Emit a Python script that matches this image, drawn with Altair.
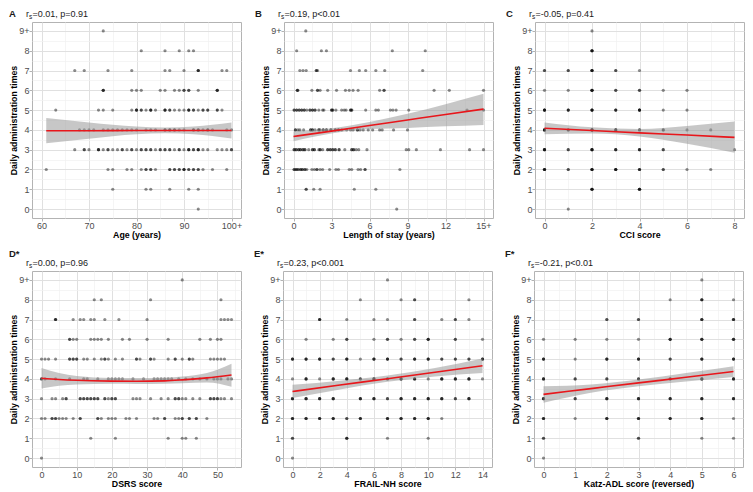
import json
import altair as alt
import pandas as pd

FONT = "Liberation Sans"

# ---------------- shared y axis ----------------
Y_VALUES = [0, 1, 2, 3, 4, 5, 6, 7, 8, 9]
Y_LABELS = ["0", "1", "2", "3", "4", "5", "6", "7", "8", "9+"]
Y_MINOR = [0.5, 1.5, 2.5, 3.5, 4.5, 5.5, 6.5, 7.5, 8.5]
Y_DOMAIN = [-0.45, 9.45]
Y_TITLE = "Daily administration times"

# ---------------- panel A : Age ----------------
A_points = {
    9: [73],
    8: [81, 86, 89, 91, 92],
    7: [67, 69, 74, 79, 86, 87, 90, 93, 93, 93, 98, 99],
    6: [73, 73, 73, 79, 80, 81, 85, 86, 88, 89, 90, 90, 91, 91, 93, 97, 97, 97],
    5: [63, 72, 73, 75, 79, 80, 80, 80, 81, 81, 82, 83, 83, 83, 84, 86, 86, 86, 87, 87,
        88, 89, 90, 91, 91, 91, 92, 92, 93, 94, 94, 95, 95, 97, 97, 98],
    4: [68, 69, 70, 71, 73, 74, 75, 76, 77, 78, 79, 80, 82, 83, 84, 86, 86, 87, 87, 88,
        88, 89, 90, 92, 92, 93, 93, 94, 95, 95, 96, 99, 100],
    3: [67, 69, 69, 70, 72, 72, 72, 73, 74, 74, 75, 76, 77, 77, 78, 79, 79, 80, 81, 81,
        82, 82, 83, 83, 84, 85, 85, 86, 86, 87, 87, 88, 89, 89, 90, 91, 91, 91, 92, 92,
        93, 93, 93, 94, 95, 97, 98, 99, 100, 100],
    2: [61, 74, 75, 78, 79, 81, 82, 82, 83, 83, 84, 87, 87, 88, 88, 89, 89, 90, 90, 90,
        91, 91, 92, 92, 93, 93, 94, 96, 99],
    1: [75, 82, 83, 87, 91, 93],
    0: [93],
}
A_fit_x = [61, 70, 80, 86, 92, 100]
A_fit_y = [3.96, 3.96, 3.97, 3.97, 3.97, 3.97]
A_fit_lo = [3.32, 3.55, 3.78, 3.83, 3.78, 3.57]
A_fit_hi = [4.60, 4.38, 4.17, 4.12, 4.17, 4.37]
A_ticks = [60, 70, 80, 90, 100]
A_labels = ["60", "70", "80", "90", "100+"]
A_minor = [65, 75, 85, 95]

# ---------------- panel B : Length of stay ----------------
B_points = {
    9: [0.97],
    8: [0.25, 2.2, 2.6, 7.8, 10.4],
    7: [0.5, 0.75, 1.0, 1.8, 1.8, 1.9, 4.5, 5.2, 5.7, 6.5, 7.2, 10.2],
    6: [0.3, 0.3, 0.35, 1.45, 1.9, 1.9, 2.1, 2.7, 3.4, 4.1, 4.4, 4.7, 5.1, 6.8, 7.15,
        7.15, 11.1, 12.3, 15],
    5: [0.05, 0.05, 0.25, 0.25, 0.45, 0.45, 0.65, 0.65, 0.85, 0.85, 1.05, 1.3, 1.3, 1.5,
        1.5, 1.7, 1.7, 2.0, 2.3, 2.4, 3.0, 3.0, 3.1, 3.1, 3.35, 3.8, 4.0, 4.15, 4.5, 4.5,
        4.6, 4.6, 5.7, 6.5, 6.7, 7.65, 7.85, 8.1, 9.1, 13.7, 15],
    4: [0.15, 0.15, 0.35, 0.5, 0.8, 1.35, 1.35, 1.5, 1.5, 1.7, 2.0, 2.0, 2.1, 2.35, 2.35,
        2.6, 2.6, 2.95, 2.95, 3.3, 3.3, 3.55, 3.55, 3.8, 4.2, 4.5, 4.7, 5.05, 5.05, 5.25,
        5.5, 5.9, 6.25, 6.8, 7.0, 7.9, 9.0],
    3: [0.05, 0.05, 0.2, 0.2, 0.4, 0.4, 0.55, 0.55, 0.75, 0.75, 0.9, 0.9, 1.2, 1.5, 1.5,
        1.65, 1.65, 2.0, 2.1, 2.1, 2.3, 2.7, 2.7, 2.9, 2.9, 3.1, 3.1, 3.3, 3.3, 3.6, 3.6,
        4.05, 4.6, 4.6, 4.75, 4.75, 4.95, 5.15, 5.8, 8.9, 9.1, 9.7, 11.6, 13.9, 15],
    2: [0.05, 0.05, 0.2, 0.2, 0.35, 0.35, 0.55, 0.55, 0.7, 0.7, 0.9, 0.9, 1.05, 1.45,
        1.65, 1.85, 1.85, 2.1, 2.3, 2.85, 3.35, 3.55, 4.4, 4.6, 5.1, 5.3, 5.65, 5.65, 8.4],
    1: [1.0, 1.0, 1.6, 2.1, 4.8, 6.5],
    0: [8.15],
}
B_fit_x = [0, 3, 6, 9, 12, 15]
B_fit_y = [3.67, 3.94, 4.22, 4.5, 4.78, 5.05]
B_fit_lo = [3.43, 3.82, 4.04, 4.1, 4.18, 4.25]
B_fit_hi = [3.92, 4.08, 4.40, 4.82, 5.3, 5.83]
B_ticks = [0, 3, 6, 9, 12, 15]
B_labels = ["0", "3", "6", "9", "12", "15+"]
B_minor = [1.5, 4.5, 7.5, 10.5, 13.5]

# ---------------- panel C : CCI ----------------
C_points = {
    9: [2],
    8: [2, 2, 2, 2],
    7: [0, 0, 1, 1, 2, 2, 2, 2, 3, 3, 4],
    6: [0, 1, 2, 2, 2, 2, 3, 3, 4, 4, 5, 6],
    5: [0, 0, 0, 0, 1, 1, 1, 2, 2, 2, 2, 3, 3, 3, 4, 4, 4, 4, 5, 6],
    4: [0, 0, 0, 0, 1, 1, 2, 2, 2, 2, 3, 3, 3, 4, 4, 5, 5, 6, 7],
    3: [0, 0, 0, 0, 1, 1, 2, 2, 2, 2, 3, 3, 3, 4, 4, 4, 5, 5, 8],
    2: [0, 0, 0, 0, 1, 1, 2, 2, 2, 2, 3, 3, 3, 3, 4, 4, 4, 5, 5, 6, 7],
    1: [2, 2, 2, 2, 4, 4, 4, 4],
    0: [1],
}
C_fit_x = [0, 2, 4, 6, 8]
C_fit_y = [4.08, 3.97, 3.85, 3.74, 3.62]
C_fit_lo = [3.78, 3.82, 3.67, 3.30, 2.85]
C_fit_hi = [4.38, 4.13, 4.05, 4.20, 4.42]
C_ticks = [0, 2, 4, 6, 8]
C_labels = ["0", "2", "4", "6", "8"]
C_minor = [1, 3, 5, 7]

# ---------------- panel D : DSRS ----------------
D_points = {
    9: [40],
    8: [15, 17, 31, 51],
    7: [4, 4, 4, 9, 11, 12, 14, 15, 18, 22, 30, 51, 52, 53, 54],
    6: [8, 8, 9, 10, 14, 15, 16, 17, 19, 23, 25, 30, 36, 45, 48, 50, 51],
    5: [0, 1, 2, 4, 8, 8, 9, 9, 10, 10, 12, 13, 15, 17, 18, 18, 19, 21, 23, 27, 27, 28,
        31, 31, 32, 36, 38, 38, 40, 42, 42, 43, 48, 49, 50, 51, 52],
    4: [0, 0, 1, 4, 8, 12, 13, 16, 19, 20, 21, 22, 23, 26, 29, 32, 33, 34, 35, 36, 37,
        39, 41, 43, 45, 47, 49, 50, 51, 53, 54],
    3: [0, 3, 4, 6, 7, 7, 11, 11, 12, 12, 13, 13, 14, 14, 15, 15, 16, 16, 18, 18, 19, 20,
        20, 21, 21, 26, 27, 28, 31, 34, 36, 38, 38, 39, 39, 40, 41, 43, 45, 48, 48, 49,
        49, 50, 50, 51, 52, 54],
    2: [0, 1, 3, 3, 4, 4, 5, 6, 7, 9, 11, 11, 16, 16, 17, 19, 20, 21, 24, 25, 27, 32, 33,
        35, 35, 38, 39, 40, 40, 42, 42, 44, 44, 47],
    1: [14, 21, 36, 40, 41, 44],
    0: [0],
}
D_fit_x = [0, 5, 10, 20, 27, 35, 40, 47, 54]
D_fit_y = [4.03, 3.97, 3.93, 3.89, 3.88, 3.90, 3.95, 4.05, 4.20]
D_fit_lo = [3.52, 3.65, 3.72, 3.75, 3.74, 3.75, 3.78, 3.82, 3.60]
D_fit_hi = [4.55, 4.30, 4.15, 4.05, 4.04, 4.06, 4.12, 4.30, 4.77]
D_ticks = [0, 10, 20, 30, 40, 50]
D_labels = ["0", "10", "20", "30", "40", "50"]
D_minor = [5, 15, 25, 35, 45, 55]

# ---------------- panel E : FRAIL-NH ----------------
E_points = {
    9: [7],
    8: [5, 8, 9, 9, 13],
    7: [2, 2, 2, 4, 6, 7, 9, 9, 11, 12, 12, 13],
    6: [1, 3, 4, 4, 6, 7, 7, 8, 9, 9, 10, 10, 10, 12, 12, 14],
    5: [0, 0, 0, 1, 1, 1, 2, 2, 2, 3, 3, 4, 4, 4, 5, 6, 6, 6, 7, 7, 7, 8, 8, 9, 9, 9,
        10, 10, 10, 11, 11, 12, 12, 13, 13, 14, 14, 14],
    4: [0, 1, 1, 1, 2, 3, 3, 3, 4, 4, 4, 5, 5, 6, 6, 6, 7, 7, 8, 8, 8, 9, 9, 9, 10, 11,
        11, 11, 12, 12, 12, 13, 13, 13, 14],
    3: [0, 0, 0, 1, 1, 1, 2, 2, 2, 3, 3, 3, 5, 5, 5, 6, 6, 6, 7, 7, 8, 8, 8, 9, 9, 9,
        10, 10, 10, 11, 11, 11, 12, 12, 13, 13, 13],
    2: [0, 0, 0, 1, 1, 1, 2, 2, 2, 3, 3, 3, 4, 4, 5, 5, 5, 7, 7, 7, 8, 8, 8, 9, 9, 9,
        10, 10, 10, 11],
    1: [0, 0, 4, 4, 4, 7, 10],
    0: [0],
}
E_fit_x = [0, 3.5, 7, 10.5, 14]
E_fit_y = [3.36, 3.69, 4.01, 4.34, 4.66]
E_fit_lo = [3.03, 3.47, 3.85, 4.12, 4.30]
E_fit_hi = [3.70, 3.91, 4.17, 4.55, 5.03]
E_ticks = [0, 2, 4, 6, 8, 10, 12, 14]
E_labels = ["0", "2", "4", "6", "8", "10", "12", "14"]
E_minor = [1, 3, 5, 7, 9, 11, 13]

# ---------------- panel F : Katz-ADL ----------------
F_points = {
    9: [5],
    8: [4, 5, 5, 5, 6],
    7: [2, 2, 3, 3, 5, 5, 5, 6, 6, 6],
    6: [0, 1, 2, 3, 4, 4, 4, 5, 5, 5, 6, 6, 6],
    5: [0, 0, 0, 1, 2, 2, 2, 3, 3, 3, 4, 4, 5, 5, 5, 6, 6, 6],
    4: [0, 0, 0, 1, 1, 2, 2, 3, 3, 4, 4, 5, 5, 5, 6, 6, 6],
    3: [0, 0, 0, 1, 1, 2, 2, 2, 3, 3, 3, 4, 4, 4, 5, 5, 5, 6, 6, 6],
    2: [0, 0, 0, 1, 2, 2, 2, 3, 3, 3, 4, 4, 4, 5, 5, 5, 6],
    1: [0, 0, 3, 3, 5, 6],
    0: [0],
}
F_fit_x = [0, 1.5, 3, 4.5, 6]
F_fit_y = [3.22, 3.51, 3.80, 4.08, 4.37]
F_fit_lo = [2.80, 3.30, 3.63, 3.87, 4.10]
F_fit_hi = [3.63, 3.72, 3.97, 4.30, 4.64]
F_ticks = [0, 1, 2, 3, 4, 5, 6]
F_labels = ["0", "1", "2", "3", "4", "5", "6"]
F_minor = [0.5, 1.5, 2.5, 3.5, 4.5, 5.5]

PANEL_W = 209
PANEL_H = 196


def label_expr(vals, labs):
    expr = "''"
    for v, l in zip(vals, labs):
        expr = f"datum.value == {v} ? '{l}' : ({expr})"
    return expr


def make_axis(title, majors, labels, minors):
    test = f"indexof({json.dumps(majors)}, datum.value) < 0"
    return alt.Axis(
        title=title,
        values=majors + minors,
        labelExpr=label_expr(majors, labels),
        gridColor={"condition": {"test": test, "value": "#F0F0F0"}, "value": "#E0E0E0"},
        gridWidth={"condition": {"test": test, "value": 0.7}, "value": 1.0},
        tickOpacity={"condition": {"test": test, "value": 0}, "value": 1},
    )


def text_layer(txt, x, y, size, weight="normal"):
    return alt.Chart(pd.DataFrame({"t": [txt]})).mark_text(
        align="left", baseline="alphabetic", fontSize=size, fontWeight=weight,
        font=FONT, color="#1A1A1A"
    ).encode(x=alt.value(x), y=alt.value(y), text="t:N")


def panel(letter, rs, pts, xdom, xmaj, xlab, xmin, xtitle, fx, fy, flo, fhi, lx, ly):
    rows = [(x, y) for y, xs in pts.items() for x in xs]
    df = pd.DataFrame(rows, columns=["x", "y"])
    fit = pd.DataFrame({"x": fx, "fit": fy, "lo": flo, "hi": fhi})
    xs = alt.Scale(domain=xdom, nice=False, zero=False)
    ys = alt.Scale(domain=Y_DOMAIN, nice=False, zero=False)
    xaxis = make_axis(xtitle, xmaj, xlab, xmin)
    yaxis = make_axis(Y_TITLE, Y_VALUES, Y_LABELS, Y_MINOR)

    points = alt.Chart(df).mark_circle(size=10, color="black", opacity=0.45).encode(
        x=alt.X("x:Q", scale=xs, axis=xaxis),
        y=alt.Y("y:Q", scale=ys, axis=yaxis),
    )
    band = alt.Chart(fit).mark_area(color="#999999", opacity=0.55, interpolate="monotone").encode(
        x=alt.X("x:Q", scale=xs, axis=xaxis),
        y=alt.Y("lo:Q", scale=ys, axis=yaxis),
        y2="hi:Q",
    )
    line = alt.Chart(fit).mark_line(color="#E8161B", strokeWidth=1.6, interpolate="monotone").encode(
        x=alt.X("x:Q", scale=xs, axis=xaxis),
        y=alt.Y("fit:Q", scale=ys, axis=yaxis),
    )
    lab = text_layer(letter, lx, ly, 9.5, "bold")
    r1 = text_layer("r", -6, -5, 9)
    r2 = text_layer("s", -3, -3, 6.5)
    r3 = text_layer(rs, 0.5, -5, 9)
    return alt.layer(points, band, line, lab, r1, r2, r3).properties(width=PANEL_W, height=PANEL_H)


pA = panel("A", "=0.01, p=0.91", A_points, [58, 102], A_ticks, A_labels, A_minor,
           "Age (years)", A_fit_x, A_fit_y, A_fit_lo, A_fit_hi, -23, -5)
pB = panel("B", "=0.19, p<0.01", B_points, [-0.75, 15.75], B_ticks, B_labels, B_minor,
           "Length of stay (years)", B_fit_x, B_fit_y, B_fit_lo, B_fit_hi, -29, -5)
pC = panel("C", "=-0.05, p=0.41", C_points, [-0.4, 8.4], C_ticks, C_labels, C_minor,
           "CCI score", C_fit_x, C_fit_y, C_fit_lo, C_fit_hi, -29, -5)
pD = panel("D*", "=0.00, p=0.96", D_points, [-2.7, 56.7], D_ticks, D_labels, D_minor,
           "DSRS score", D_fit_x, D_fit_y, D_fit_lo, D_fit_hi, -23, -14)
pE = panel("E*", "=0.23, p<0.001", E_points, [-0.7, 14.7], E_ticks, E_labels, E_minor,
           "FRAIL-NH score", E_fit_x, E_fit_y, E_fit_lo, E_fit_hi, -29, -14)
pF = panel("F*", "=-0.21, p<0.01", F_points, [-0.3, 6.3], F_ticks, F_labels, F_minor,
           "Katz-ADL score (reversed)", F_fit_x, F_fit_y, F_fit_lo, F_fit_hi, -29, -14)

row1 = alt.hconcat(pA, pB, pC, spacing=11)
row2 = alt.hconcat(pD, pE, pF, spacing=11)

chart = alt.vconcat(row1, row2, spacing=8).configure_view(
    stroke="#B3B3B3", strokeWidth=1
).configure_axis(
    labelFont=FONT, titleFont=FONT, labelFontSize=9, titleFontSize=8.8,
    titleFontWeight="bold", labelColor="#4D4D4D", titleColor="black",
    tickColor="#B3B3B3", tickSize=3, labelPadding=0, titlePadding=0.5,
    domain=False, labelFlush=False, labelOverlap=False, labelBound=False,
).properties(
    padding={"left": 0, "top": 0, "right": 0, "bottom": 0},
    background="white",
)

chart.save("out.html", embed_options={"renderer": "svg", "actions": False})
